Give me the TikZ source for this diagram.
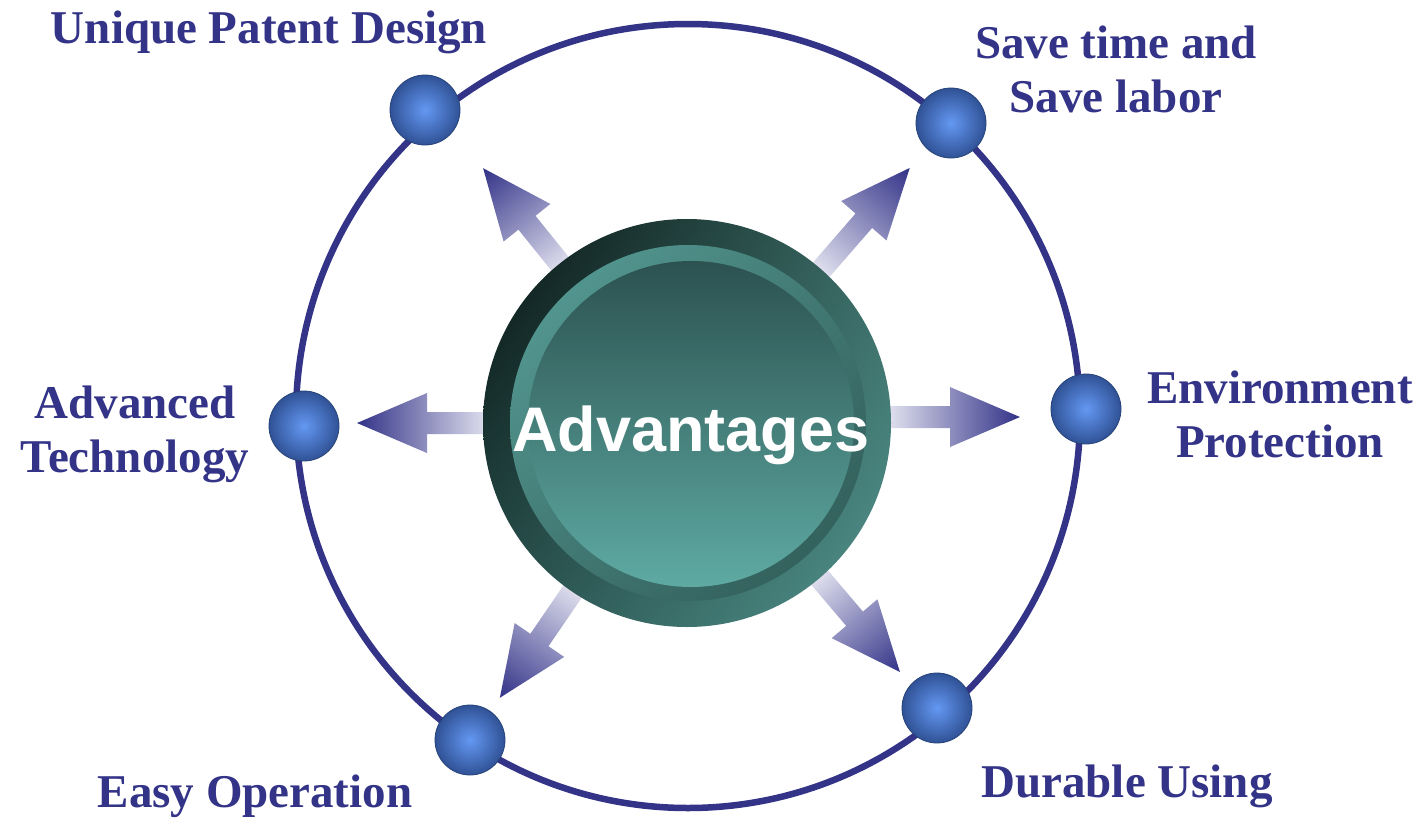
\documentclass[tikz,border=0pt]{standalone}
\usepackage{fontspec}
\usetikzlibrary{shadings}
\setmainfont{Liberation Serif}
\newfontfamily\sansbold{Liberation Sans}
\definecolor{navy}{RGB}{51,51,136}
\definecolor{arrowdark}{RGB}{50,50,136}
\definecolor{arrowlight}{RGB}{238,238,247}
\definecolor{ballin}{RGB}{100,152,242}
\definecolor{ballout}{RGB}{48,82,150}
\definecolor{ringA}{RGB}{8,20,18}
\definecolor{ringB}{RGB}{58,106,101}
\definecolor{ringC}{RGB}{40,80,77}
\definecolor{ringD}{RGB}{82,148,141}
\definecolor{bevL}{RGB}{88,160,153}
\definecolor{bevM}{RGB}{66,120,115}
\definecolor{bevD}{RGB}{46,88,84}
\definecolor{discT}{RGB}{44,82,80}
\definecolor{discB}{RGB}{94,170,163}
\newcommand{\gradarrow}[3]{%
  \begin{scope}[transform canvas={shift={#1},rotate=#2}]
    \shade[arrowshade] (190,-11) -- ({#3-70},-11) -- ({#3-70},-30) -- (#3,0)
      -- ({#3-70},30) -- ({#3-70},11) -- (190,11) -- cycle;
  \end{scope}}
\begin{document}
\begin{tikzpicture}[x=1pt,y=-1pt,
  arrowshade/.style={left color=arrowlight,right color=arrowdark},
  ball/.style={circle,minimum size=70pt,inner sep=0pt,draw=ballout!80!black,line width=0.8pt,inner color=ballin,outer color=ballout},
  lbl/.style={text=navy,font=\fontsize{47}{54}\selectfont\bfseries,align=center,inner sep=0pt,anchor=base}]
\useasboundingbox (0,0) rectangle (1424,822);
\fill[white] (0,0) rectangle (1424,822);
% outer ring
\draw[navy,line width=6.5pt] (688,416) circle[radius=392pt];
% arrows
\gradarrow{(688,423)}{128.8}{327}
\gradarrow{(688,423)}{49.0}{338}
\gradarrow{(688,417)}{0}{332}
\gradarrow{(688,423)}{180}{331}
\gradarrow{(688,423)}{-124.4}{333}
\gradarrow{(688,423)}{-49.6}{327}
% central disc
\shade[upper left=ringA,upper right=ringB,lower left=ringC,lower right=ringD] (687,423) circle[radius=204pt];
\shade[upper left=bevL,upper right=bevM,lower left=bevM,lower right=bevD] (688,423) circle[radius=178pt];
\shade[top color=discT,bottom color=discB] (691,424) circle[radius=163pt];
\node[text=white,font=\sansbold\fontsize{63}{70}\selectfont\bfseries,anchor=base,inner sep=0pt] (adv) at (691,451) {Advantages};
% balls
\node[ball] (b1) at (425,110) {};
\node[ball] (b2) at (951,123) {};
\node[ball] (b3) at (1086,409) {};
\node[ball] (b4) at (304,426) {};
\node[ball] (b5) at (470,740) {};
\node[ball] (b6) at (937,708) {};
% labels
\node[lbl] (l1) at (269,43) {Unique Patent Design};
\node[lbl] (l2) at (1116,112) {Save time and\\Save labor};
\node[lbl] (l3) at (1280,457) {Environment\\Protection};
\node[lbl] (l4) at (135,472) {Advanced\\Technology};
\node[lbl] (l5) at (255,807) {Easy Operation};
\node[lbl] (l6) at (1127,797) {Durable Using};
\end{tikzpicture}
\end{document}
